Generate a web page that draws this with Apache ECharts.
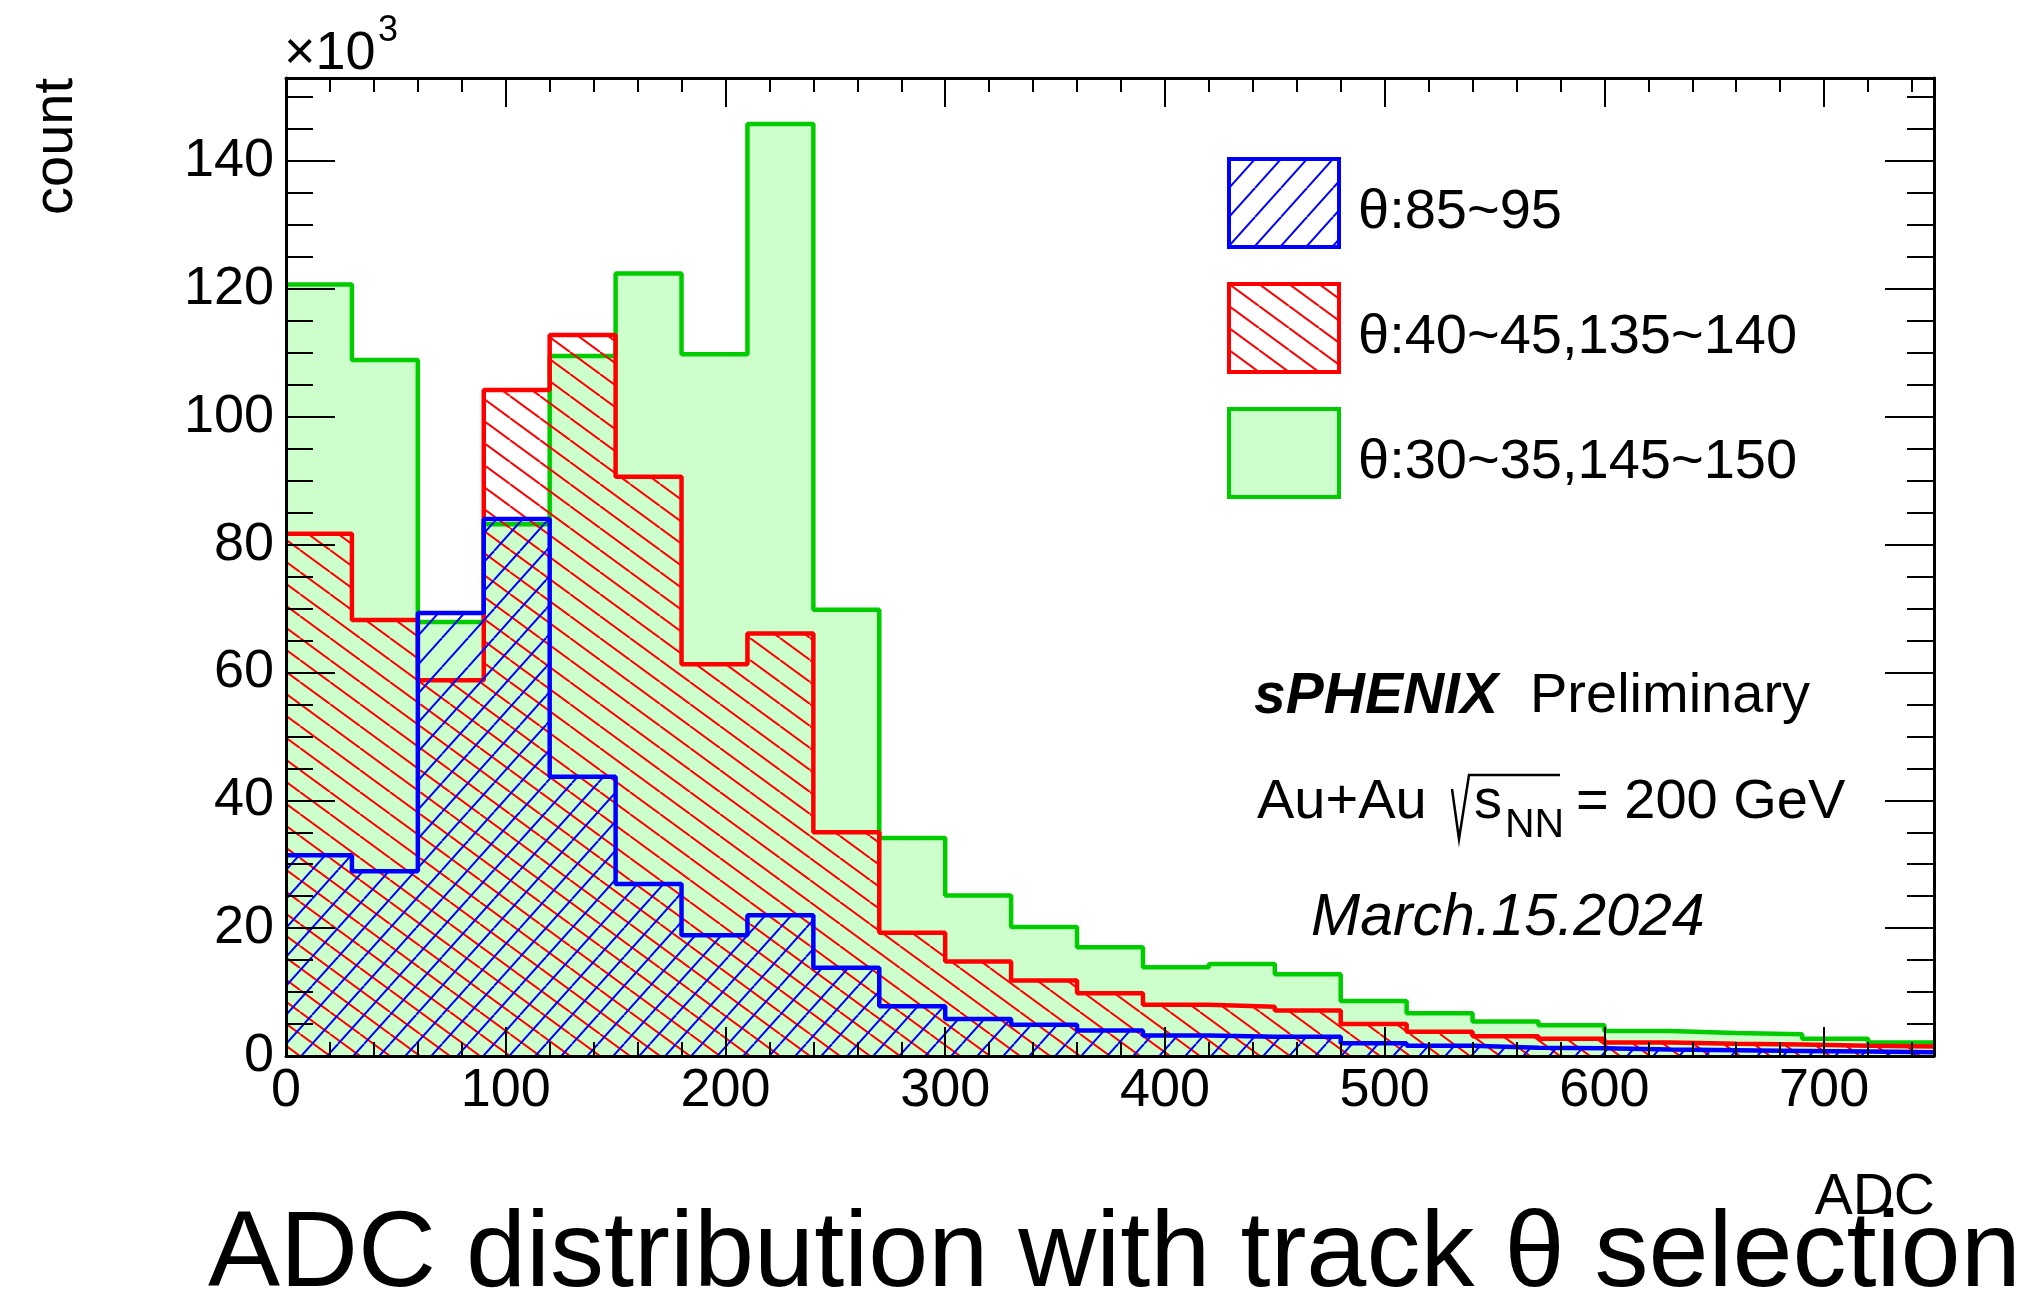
<!DOCTYPE html>
<html>
<head>
<meta charset="utf-8">
<script src="https://cdn.jsdelivr.net/npm/echarts@6/dist/echarts.min.js"></script>
<style>
html,body{margin:0;padding:0;background:#fff;}
#chart{width:2034px;height:1300px;}
</style>
</head>
<body>
<div id="chart"></div>
<script>
// ---------------- data (counts in units of 10^3) ----------------
const binLowEdges = [0,30,60,90,120,150,180,210,240,270,300,330,360,390,420,450,480,510,540,570,600,630,660,690,720];
const histUpperEdge = 750;
const seriesNames = ['θ:85~95', 'θ:40~45,135~140', 'θ:30~35,145~150'];
const blueCounts  = [31.4,28.9,69.3,84.0,43.7,26.9,18.9,22.0,13.8,7.8,5.8,4.9,4.0,3.2,3.0,3.0,2.0,1.6,1.3,1.2,1.0,0.9,0.8,0.7,0.6];
const redCounts   = [81.7,68.2,58.8,104.2,112.8,90.6,61.3,66.1,35.0,19.3,14.8,11.8,9.8,8.0,7.7,7.1,5.0,3.8,3.1,2.7,2.1,1.9,1.8,1.6,1.5];
const greenCounts = [120.7,108.9,67.9,83.2,109.5,122.4,109.8,145.8,69.8,34.1,25.1,20.2,17.0,13.9,14.4,12.8,8.6,6.7,5.4,4.8,3.9,3.6,3.4,2.7,2.1];
const xTickLabels = [0,100,200,300,400,500,600,700];
const yTickLabels = [0,20,40,60,80,100,120,140];
const xRange = [0, 750];
const yRange = [0, 153];

// ---------------- helpers ----------------
const FONT = '"Liberation Sans", Arial, Helvetica, sans-serif';

function hatchTile(color, W, H, dir, lw, bg) {
  const c = document.createElement('canvas');
  c.width = W; c.height = H;
  const g = c.getContext('2d');
  if (bg) { g.fillStyle = bg; g.fillRect(0, 0, W, H); }
  g.strokeStyle = color; g.lineWidth = lw;
  for (let k = -1; k <= 1; k++) {
    g.beginPath();
    if (dir === '\\') { g.moveTo(k * W, 0); g.lineTo(k * W + W, H); }
    else { g.moveTo(k * W, H); g.lineTo(k * W + W, 0); }
    g.stroke();
  }
  return c;
}
const blueHatch = hatchTile('#0000ff', 26, 29, '/', 2, null);
const redHatch  = hatchTile('#ff0000', 30, 22, '\\', 2, null);
const blueHatchLeg = hatchTile('#0000ff', 26, 29, '/', 2, '#ffffff');
const redHatchLeg  = hatchTile('#ff0000', 30, 22, '\\', 2, '#ffffff');

function stepData(vals) {
  const d = binLowEdges.map((x, i) => [x, vals[i]]);
  d.push([histUpperEdge, vals[vals.length - 1]]);
  return d;
}

function xAxisDef(pos, interval, tickLen, withLine, withLabel) {
  return {
    type: 'value', position: pos, min: xRange[0], max: xRange[1], interval: interval, z: 6,
    axisLine: { show: withLine, onZero: false, lineStyle: { color: '#000', width: 3 } },
    axisTick: { show: true, inside: true, length: tickLen, lineStyle: { color: '#000', width: 2 } },
    axisLabel: {
      show: withLabel, margin: 8, fontSize: 54, color: '#000', fontFamily: FONT, showMaxLabel: false,
      formatter: v => (xTickLabels.indexOf(v) >= 0 ? String(v) : '')
    },
    splitLine: { show: false }, minorTick: { show: false }
  };
}
function yAxisDef(pos, interval, tickLen, withLine, withLabel) {
  return {
    type: 'value', position: pos, min: yRange[0], max: yRange[1], interval: interval, z: 6,
    axisLine: { show: withLine, onZero: false, lineStyle: { color: '#000', width: 3 } },
    axisTick: { show: true, inside: true, length: tickLen, lineStyle: { color: '#000', width: 2 } },
    axisLabel: {
      show: withLabel, margin: 12, fontSize: 54, color: '#000', fontFamily: FONT, showMaxLabel: false,
      formatter: v => (yTickLabels.indexOf(v) >= 0 ? String(v) : '')
    },
    splitLine: { show: false }, minorTick: { show: false }
  };
}

const chart = echarts.init(document.getElementById('chart'), null, { renderer: 'canvas' });

const option = {
  animation: false,
  backgroundColor: '#ffffff',
  grid: { left: 286, top: 78, width: 1648, height: 978, show: false, containLabel: false },
  xAxis: [
    xAxisDef('bottom', 100, 29, true, true),
    xAxisDef('bottom', 20, 14, false, false),
    xAxisDef('top', 100, 29, true, false),
    xAxisDef('top', 20, 14, false, false)
  ],
  yAxis: [
    yAxisDef('left', 20, 49, true, true),
    yAxisDef('left', 5, 27, false, false),
    yAxisDef('right', 20, 49, true, false),
    yAxisDef('right', 5, 27, false, false)
  ],
  legend: {
    orient: 'vertical', left: 1222, top: 152, itemWidth: 110, itemHeight: 88, itemGap: 33,
    selectedMode: false, icon: 'rect',
    formatter: name => '{t|' + name + '}',
    textStyle: {
      fontSize: 56, fontFamily: FONT, color: '#000', padding: [0, 0, 0, 14],
      rich: { t: { fontSize: 56, fontFamily: FONT, color: '#000', padding: [20, 0, 0, 0] } }
    },
    data: [
      { name: seriesNames[0], icon: 'rect', itemStyle: { color: { image: blueHatchLeg, repeat: 'repeat' }, borderColor: '#0000ff', borderWidth: 4 } },
      { name: seriesNames[1], icon: 'rect', itemStyle: { color: { image: redHatchLeg, repeat: 'repeat' }, borderColor: '#ff0000', borderWidth: 4 } },
      { name: seriesNames[2], icon: 'rect', itemStyle: { color: '#ccffcc', borderColor: '#00cc00', borderWidth: 4 } }
    ]
  },
  series: [
    {
      name: seriesNames[2], type: 'line', step: 'end', data: stepData(greenCounts),
      symbol: 'none', showSymbol: false, z: 2, xAxisIndex: 0, yAxisIndex: 0,
      lineStyle: { color: '#00cc00', width: 4.5 },
      itemStyle: { color: '#00cc00' },
      areaStyle: { color: '#ccffcc', opacity: 1 }
    },
    {
      name: seriesNames[1], type: 'line', step: 'end', data: stepData(redCounts),
      symbol: 'none', showSymbol: false, z: 3, xAxisIndex: 0, yAxisIndex: 0,
      lineStyle: { color: '#ff0000', width: 4.5 },
      itemStyle: { color: '#ff0000' },
      areaStyle: { color: { image: redHatch, repeat: 'repeat' }, opacity: 1 }
    },
    {
      name: seriesNames[0], type: 'line', step: 'end', data: stepData(blueCounts),
      symbol: 'none', showSymbol: false, z: 4, xAxisIndex: 0, yAxisIndex: 0,
      lineStyle: { color: '#0000ff', width: 4.5 },
      itemStyle: { color: '#0000ff' },
      areaStyle: { color: { image: blueHatch, repeat: 'repeat' }, opacity: 1 }
    }
  ],
  graphic: [
    { type: 'text', x: 57, y: 78, rotation: Math.PI / 2,
      style: { text: 'count', font: '56px ' + FONT, fill: '#000', align: 'right', verticalAlign: 'middle' } },
    { type: 'text', x: 284, y: 54,
      style: { text: '×10', font: '54px ' + FONT, fill: '#000', align: 'left', verticalAlign: 'middle' } },
    { type: 'text', x: 378, y: 31,
      style: { text: '3', font: '36px ' + FONT, fill: '#000', align: 'left', verticalAlign: 'middle' } },
    { type: 'text', x: 1254, y: 697,
      style: { text: 'sPHENIX', font: 'italic bold 57px ' + FONT, fill: '#000', align: 'left', verticalAlign: 'middle' } },
    { type: 'text', x: 1530, y: 697,
      style: { text: 'Preliminary', font: '56px ' + FONT, fill: '#000', align: 'left', verticalAlign: 'middle' } },
    { type: 'text', x: 1257, y: 803,
      style: { text: 'Au+Au', font: '56px ' + FONT, fill: '#000', align: 'left', verticalAlign: 'middle' } },
    { type: 'polyline', shape: { points: [[1452, 789], [1459, 839], [1469, 775], [1560, 775]] },
      style: { stroke: '#000', lineWidth: 2.5, fill: null } },
    { type: 'text', x: 1474, y: 803,
      style: { text: 's', font: '56px ' + FONT, fill: '#000', align: 'left', verticalAlign: 'middle' } },
    { type: 'text', x: 1505, y: 826,
      style: { text: 'NN', font: '41px ' + FONT, fill: '#000', align: 'left', verticalAlign: 'middle' } },
    { type: 'text', x: 1576, y: 803,
      style: { text: '= 200 GeV', font: '56px ' + FONT, fill: '#000', align: 'left', verticalAlign: 'middle' } },
    { type: 'text', x: 1311, y: 919,
      style: { text: 'March.15.2024', font: 'italic 59px ' + FONT, fill: '#000', align: 'left', verticalAlign: 'middle' } },
    { type: 'text', x: 1935, y: 1198,
      style: { text: 'ADC', font: '57px ' + FONT, fill: '#000', align: 'right', verticalAlign: 'middle' } },
    { type: 'text', x: 208, y: 1256,
      style: { text: 'ADC distribution with track θ selection', font: '108px ' + FONT, fill: '#000', align: 'left', verticalAlign: 'middle' } }
  ]
};
chart.setOption(option);
</script>
</body>
</html>
